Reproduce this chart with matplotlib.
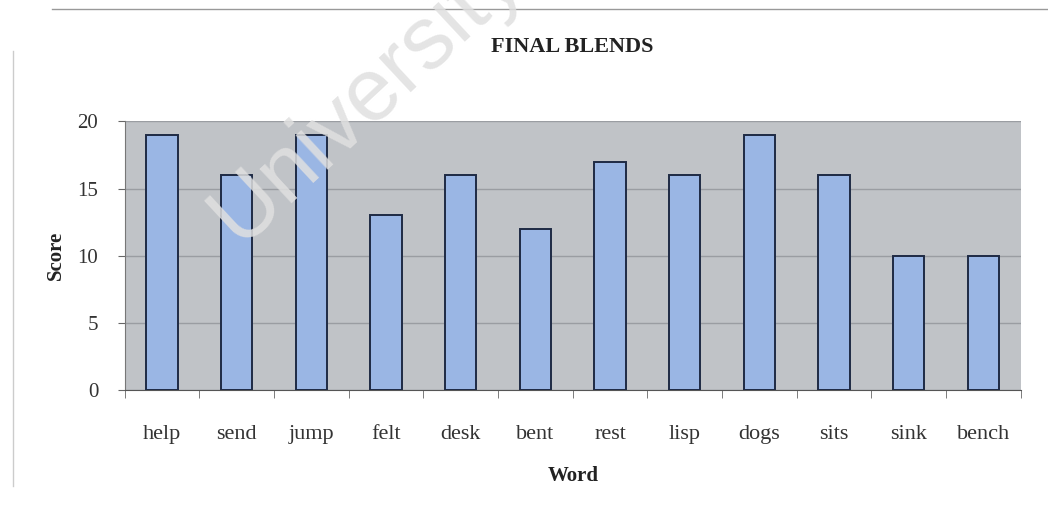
import matplotlib.pyplot as plt
import numpy as np

# ------------------------------------------------------------
# data
# ------------------------------------------------------------
words = ["help", "send", "jump", "felt", "desk", "bent",
         "rest", "lisp", "dogs", "sits", "sink", "bench"]
scores = [19, 16, 19, 13, 16, 12, 17, 16, 19, 16, 10, 10]
y_ticks = [0, 5, 10, 15, 20]

plt.rcParams['font.family'] = ['Liberation Serif', 'DejaVu Serif']

fig = plt.figure(figsize=(10.48, 5.12), dpi=100)
ax = fig.add_axes([0.119, 0.238, 0.855, 0.525])

x = np.arange(len(words))

ax.set_facecolor("#c0c3c7")
ax.set_axisbelow(True)
ax.grid(axis="y", color="#9a9da2", linewidth=1.0)

ax.bar(x, scores, width=0.42, color="#9ab6e4",
       edgecolor="#1e2a44", linewidth=1.4, zorder=3)

ax.set_xlim(-0.5, len(words) - 0.5)
ax.set_ylim(0, 20)
ax.set_yticks(y_ticks)
ax.set_yticklabels([str(t) for t in y_ticks], fontsize=15, color="#333333")

# category labels centred on bars, tick marks between categories
ax.set_xticks(x)
ax.set_xticklabels(words, fontsize=16, color="#333333")
ax.tick_params(axis="x", length=0, pad=25)
ax.set_xticks(np.arange(-0.5, len(words)), minor=True)
ax.tick_params(axis="x", which="minor", length=6, color="#666666")
ax.tick_params(axis="y", length=5, color="#666666", pad=14)

for side in ["top", "right"]:
    ax.spines[side].set_visible(False)
ax.spines["left"].set_color("#777777")
ax.spines["bottom"].set_color("#555555")

ax.set_title("FINAL BLENDS", fontsize=16, fontweight="bold", pad=50,
             color="#222222")
ax.set_xlabel("Word", fontsize=15, fontweight="bold", labelpad=16,
              color="#222222")
ax.set_ylabel("Score", fontsize=15, fontweight="bold", labelpad=8,
              color="#222222")

# faint watermark across the chart
fig.text(0.228, 0.52, "University", fontsize=64, rotation=43,
         rotation_mode="anchor", color="#e0e0e0", alpha=0.85,
         ha="left", va="baseline",
         family=["Liberation Sans", "DejaVu Sans"], zorder=10)

# thin scan rules at the edges of the page
fig.add_artist(plt.Line2D([0.05, 1.0], [0.982, 0.982], color="#999999",
                          linewidth=1.0))
fig.add_artist(plt.Line2D([0.012, 0.012], [0.05, 0.9], color="#cccccc",
                          linewidth=1.0))

fig.savefig("out.png", dpi=100, facecolor="white")
